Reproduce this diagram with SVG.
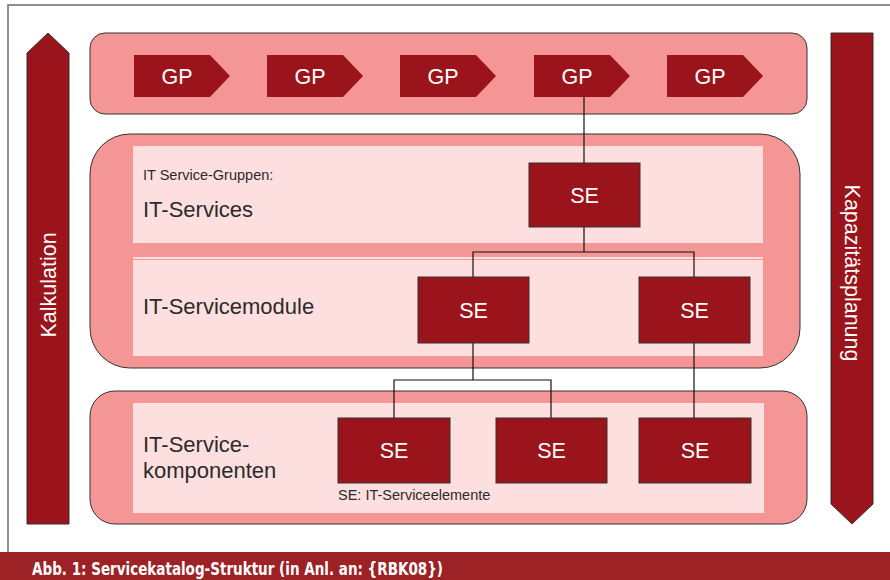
<svg xmlns="http://www.w3.org/2000/svg" width="890" height="580" viewBox="0 0 890 580">
  <style>
    .frame { fill: none; stroke: #6b6b6b; stroke-width: 1.5; }
    .band { fill: #f49596; stroke: #333; stroke-width: 1; }
    .panel { fill: #fddfe0; }
    .dark { fill: #9b141c; stroke: #333; stroke-width: 1; }
    .gp { fill: #9b141c; }
    .wt { fill: #fff; font-family: "Liberation Sans", Arial, sans-serif; font-size: 21.5px; text-anchor: middle; }
    .lbl { fill: #2b2b2b; font-family: "Liberation Sans", Arial, sans-serif; }
    .big { font-size: 22px; }
    .small { font-size: 14.5px; }
    .conn { fill: none; stroke: #111; stroke-width: 1.2; }
  </style>

  <rect width="890" height="580" fill="#fff"/>
  <!-- outer frame -->
  <path class="frame" d="M8,552 V5 H890"/>

  <!-- side arrows -->
  <g id="kalkulation">
    <polygon class="dark" points="27,53 48,33 69,53 69,524 27,524"/>
    <text class="wt" transform="translate(55.5,285) rotate(-90)">Kalkulation</text>
  </g>
  <g id="kapazitaetsplanung">
    <polygon class="dark" points="831,33 873,33 873,504 852,524 831,504"/>
    <text class="wt" transform="translate(844.5,273) rotate(90)">Kapazitätsplanung</text>
  </g>

  <!-- bands -->
  <g id="band-gp">
    <rect class="band" x="90" y="33" width="717" height="81" rx="15"/>
  </g>
  <g id="band-services">
    <rect class="band" x="90" y="134" width="710" height="234" rx="40"/>
    <rect class="panel" x="133" y="146" width="630" height="97"/>
    <rect class="panel" x="133" y="257" width="630" height="99"/>
    <line x1="133" y1="259.5" x2="763" y2="259.5" stroke="#f49596" stroke-width="1"/>
    <text class="lbl small" x="143" y="180">IT Service-Gruppen:</text>
    <text class="lbl big" x="143" y="217">IT-Services</text>
    <text class="lbl big" x="143" y="314">IT-Servicemodule</text>
  </g>
  <g id="band-components">
    <rect class="band" x="90" y="391" width="717" height="133" rx="25"/>
    <rect class="panel" x="133" y="403" width="631" height="110"/>
    <text class="lbl big" x="143" y="452">IT-Service-</text>
    <text class="lbl big" x="143" y="478">komponenten</text>
    <text class="lbl small" x="338" y="500">SE: IT-Serviceelemente</text>
  </g>

  <!-- connectors -->
  <g id="connectors">
    <path class="conn" d="M584,97 V163"/>
    <path class="conn" d="M584,227 V252 M473,277 V252 H694 V277"/>
    <path class="conn" d="M473,343 V380 M394,418 V380 H551 V418"/>
    <path class="conn" d="M694,343 V418"/>
  </g>

  <!-- GP chevrons -->
  <g id="gp1"><polygon class="gp" points="134,55 210,55 230,76 210,97 134,97"/><text class="wt" x="177" y="83.5">GP</text></g>
  <g id="gp2"><polygon class="gp" points="267,55 343,55 363,76 343,97 267,97"/><text class="wt" x="310" y="83.5">GP</text></g>
  <g id="gp3"><polygon class="gp" points="400,55 476,55 496,76 476,97 400,97"/><text class="wt" x="443" y="83.5">GP</text></g>
  <g id="gp4"><polygon class="gp" points="534,55 610,55 630,76 610,97 534,97"/><text class="wt" x="577" y="83.5">GP</text></g>
  <g id="gp5"><polygon class="gp" points="667,55 743,55 763,76 743,97 667,97"/><text class="wt" x="710" y="83.5">GP</text></g>

  <!-- service elements -->
  <g id="se-service"><rect class="dark" x="529" y="163" width="111" height="64"/><text class="wt" x="584.5" y="202.5">SE</text></g>
  <g id="se-module-1"><rect class="dark" x="418" y="277" width="111" height="66"/><text class="wt" x="473.5" y="318">SE</text></g>
  <g id="se-module-2"><rect class="dark" x="639" y="277" width="111" height="66"/><text class="wt" x="694.5" y="318">SE</text></g>
  <g id="se-comp-1"><rect class="dark" x="338" y="418" width="112" height="65"/><text class="wt" x="394" y="458">SE</text></g>
  <g id="se-comp-2"><rect class="dark" x="496" y="418" width="111" height="65"/><text class="wt" x="551.5" y="458">SE</text></g>
  <g id="se-comp-3"><rect class="dark" x="639" y="418" width="112" height="65"/><text class="wt" x="695" y="458">SE</text></g>

  <!-- caption bar -->
  <rect x="0" y="552" width="890" height="28" fill="#9d2226"/>
  <text x="32" y="575" fill="#fff" font-family="'DejaVu Sans', 'Liberation Sans', sans-serif" font-weight="bold" font-size="17" textLength="411" lengthAdjust="spacingAndGlyphs">Abb. 1: Servicekatalog-Struktur (in Anl. an: {RBK08})</text>
</svg>
